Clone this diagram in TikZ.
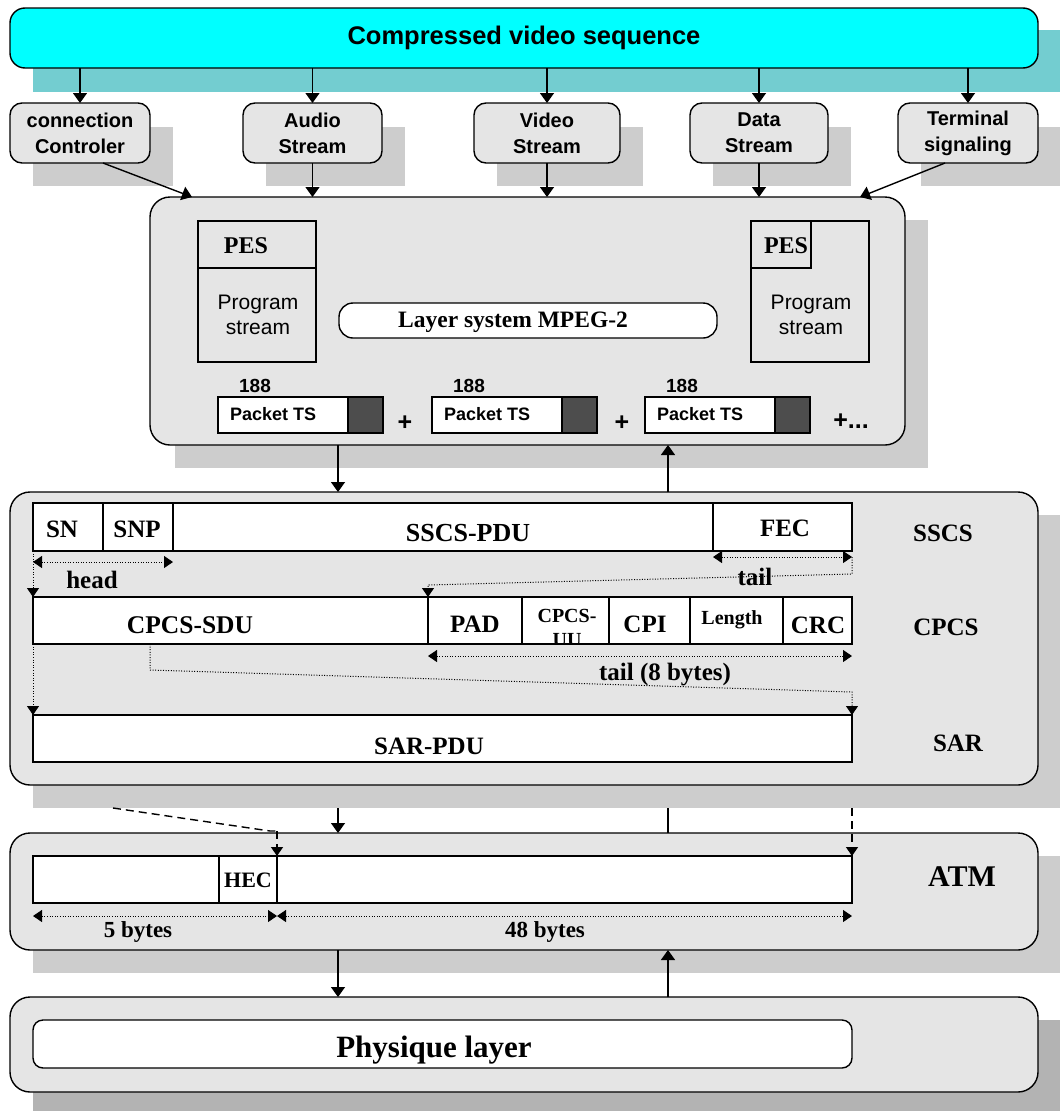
\documentclass[tikz,border=0pt]{standalone}
\usepackage{fontspec}
\setmainfont{Liberation Serif}
\setsansfont{Liberation Sans}
\usetikzlibrary{arrows.meta,calc}
\definecolor{boxfill}{HTML}{E5E5E5}
\definecolor{shad}{HTML}{CDCDCD}
\definecolor{cyanshad}{RGB}{115,205,208}
\definecolor{cyanfill}{RGB}{0,255,255}
\definecolor{darkcell}{HTML}{4D4D4D}
\definecolor{physhad}{HTML}{B3B3B3}
\begin{document}
\begin{tikzpicture}[x=1pt,y=-1pt,
  every node/.style={inner sep=0pt,outer sep=0pt},
  rbox/.style={draw,line width=1.4pt,fill=boxfill,rounded corners=#1,anchor=north west},
  cellbox/.style={draw,line width=1.4pt,fill=white,anchor=north west,minimum height=47pt},
  sb/.style={font=\sffamily\bfseries\fontsize{#1}{26}\selectfont},
  sr/.style={font=\sffamily\fontsize{#1}{25}\selectfont},
  tb/.style={font=\bfseries\fontsize{#1}{24}\selectfont},
  arr/.style={line width=1.4pt,-{Triangle[width=14pt,length=10pt]}},
  dotl/.style={line width=1pt,dash pattern=on 1pt off 1.6pt},
  dtip/.style={dotl,-{Triangle[width=12pt,length=9pt]}},
  ddtip/.style={dotl,{Triangle[width=12pt,length=9pt]}-{Triangle[width=12pt,length=9pt]}},
  dashl/.style={line width=1.4pt,dash pattern=on 8pt off 5pt}]
\useasboundingbox (0,0) rectangle (1060,1111);
\fill[white] (0,0) rectangle (1060,1111);
% ---------- shadows ----------
\fill[cyanshad] (33,30) rectangle (1060,92);
\fill[shad] (33,127) rectangle (173,186);
\fill[shad] (266,127) rectangle (405,186);
\fill[shad] (497,127) rectangle (643,186);
\fill[shad] (713,127) rectangle (851,186);
\fill[shad] (921,127) rectangle (1060,186);
\fill[shad] (175,220) rectangle (928,468);
\fill[shad] (33,515) rectangle (1060,808);
\fill[shad] (33,856) rectangle (1060,973);
\fill[physhad] (33,1020) rectangle (1060,1111);
\coordinate (aalbot) at (0,808);
\coordinate (cA) at (338,0);
\coordinate (cB) at (668,0);
\coordinate (cC) at (150,0);
\coordinate (cD) at (113,0);
% ---------- top ----------
\node[rbox=15pt,fill=cyanfill,minimum width=1028pt,minimum height=60pt,sb=25.5] (top) at (10,8) {Compressed video sequence};
\node[rbox=12pt,minimum width=140pt,minimum height=60pt,align=center,sb=20] (conn) at (10,103) {connection\\Controler};
\node[rbox=12pt,minimum width=139pt,minimum height=60pt,align=center,sb=20] (audio) at (243,103) {Audio\\Stream};
\node[rbox=12pt,minimum width=146pt,minimum height=60pt,align=center,sb=20] (video) at (474,103) {Video\\Stream};
\node[rbox=12pt,minimum width=138pt,minimum height=60pt,align=center,sb=20] (data) at (690,103) {Data\\Stream};
\node[rbox=12pt,minimum width=140pt,minimum height=60pt,align=center,sb=20] (term) at (898,103) {Terminal\\signaling};
\foreach \b in {conn,audio,video,data,term}
  \draw[arr] (top.south -| \b) -- (\b.north);
% ---------- MPEG box ----------
\node[rbox=20pt,minimum width=755pt,minimum height=248pt] (mpeg) at (150,197) {};
\draw[arr] ($(conn.south)+(23,0)$) -- ($(mpeg.north west)+(42,0)$);
\foreach \b in {audio,video,data}
  \draw[arr] (\b.south) -- (\b.south |- mpeg.north);
\draw[arr] ($(term.south)+(-23,0)$) -- ($(mpeg.north east)+(-45,0)$);
\node[draw,line width=1.4pt,fill=boxfill,anchor=north west,minimum width=118pt,minimum height=141pt] (ps1) at (198,221) {};
\node[draw,line width=1.4pt,fill=boxfill,anchor=north west,minimum width=118pt,minimum height=47pt] (pes1) at (198,221) {};
\node[tb=24] (pes1t) at (246,246) {PES};
\node[sr=21,align=center] (prog1) at (258,315) {Program\\stream};
\node[draw,line width=1.4pt,fill=boxfill,anchor=north west,minimum width=118pt,minimum height=141pt] (ps2) at (751,221) {};
\node[draw,line width=1.4pt,fill=boxfill,anchor=north west,minimum width=60pt,minimum height=47pt] (pes2) at (751,221) {};
\node[tb=24] (pes2t) at (786,246) {PES};
\node[sr=21,align=center] (prog2) at (811,315) {Program\\stream};
\node[draw,line width=1.4pt,fill=white,rounded corners=14pt,anchor=north west,minimum width=378pt,minimum height=35pt] (lay) at (339,303) {};
\node[tb=23.5] (layt) at (513,322) {Layer system MPEG-2};
\foreach \i/\x in {1/218,2/432,3/645}{
  \node[draw,line width=1.4pt,fill=white,anchor=north west,minimum width=165pt,minimum height=36pt] (pk\i) at (\x,397) {};
  \node[draw,line width=1.4pt,fill=darkcell,anchor=north east,minimum width=35pt,minimum height=36pt] (pd\i) at (pk\i.north east) {};
  \node[sb=18,anchor=west] (pt\i) at ($(pk\i.west)+(12,-1)$) {Packet TS};
  \node[sb=19] (n\i) at ($(pk\i.north west)+(37,-11)$) {188};
}
\node[sb=25] (plus1) at (405,423) {+};
\node[sb=25] (plus2) at (622,423) {+};
\node[sb=25] (plus3) at (851,421) {+...};
% ---------- AAL box ----------
\node[rbox=20pt,minimum width=1028pt,minimum height=293pt] (aal) at (10,492) {};
\draw[arr] (mpeg.south -| cA) -- (aal.north -| cA);
\draw[arr] (aal.north -| cB) -- (mpeg.south -| cB);
% SSCS row
\node[cellbox,minimum width=70pt,minimum height=48pt] (sn) at (33,503) {};
\node[cellbox,minimum width=70pt,minimum height=48pt] (snp) at (103,503) {};
\node[cellbox,minimum width=540pt,minimum height=48pt] (pdu) at (173,503) {};
\node[cellbox,minimum width=139pt,minimum height=48pt] (fec) at (713,503) {};
\node[tb=25] at (62,529) {SN};
\node[tb=25] at (137,529) {SNP};
\node[tb=26] at (468,533) {SSCS-PDU};
\node[tb=25] at (785,528) {FEC};
\node[tb=25] at (943,533) {SSCS};
% CPCS row
\node[cellbox,minimum width=395pt] (sdu) at (33,597) {};
\node[cellbox,minimum width=94pt] (pad) at (428,597) {};
\node[cellbox,minimum width=87pt] (uu) at (522,597) {};
\node[cellbox,minimum width=81pt] (cpi) at (609,597) {};
\node[cellbox,minimum width=93pt] (len) at (690,597) {};
\node[cellbox,minimum width=69pt] (crc) at (783,597) {};
\node[tb=25.5] at (190,625) {CPCS-SDU};
\node[tb=25] at (475,624) {PAD};
\begin{scope}
  \clip (uu.south west) rectangle (uu.north east);
  \node[tb=20,align=center] at (567,628) {CPCS-\\UU};
\end{scope}
\node[tb=25] at (645,624) {CPI};
\node[tb=20] at (732,620) {Length};
\node[tb=25] at (818,625) {CRC};
\node[tb=25] at (946,627) {CPCS};
% SAR row
\node[cellbox,minimum width=819pt] (sar) at (33,715) {};
\node[tb=25] at (429,746) {SAR-PDU};
\node[tb=25] at (958,743) {SAR};
% dotted annotations
\draw[ddtip] ($(sn.south west)+(0,11)$) -- ($(snp.south east)+(0,11)$);
\node[tb=25] at (92,580) {head};
\draw[dtip] (sn.south west) -- (sdu.north west);
\draw[ddtip] ($(fec.south west)+(0,6)$) -- ($(fec.south east)+(0,6)$);
\draw[dtip] ($(fec.south east)+(0,6)$) -- ++(0,17) -- ($(pad.north west)+(0,-12)$) -- (pad.north west);
\node[tb=25] at (755,577) {tail};
\draw[ddtip] ($(pad.south west)+(0,12)$) -- ($(crc.south east)+(0,12)$);
\draw[dtip] (sdu.south -| cC) -- ++(0,26) -- ($(sar.north east)+(0,-23)$) -- (sar.north east);
\node[tb=25] at (665,675) {tail (8 bytes)};
\draw[dtip] (sdu.south west) -- (sar.north west);
% ---------- ATM box ----------
\node[rbox=20pt,minimum width=1028pt,minimum height=117pt] (atm) at (10,833) {};
\node[cellbox,minimum width=186pt] (a1) at (33,856) {};
\node[cellbox,minimum width=58pt] (hec) at (219,856) {};
\node[cellbox,minimum width=575pt] (a3) at (277,856) {};
\node[tb=22] at (248,880) {HEC};
\node[tb=30] at (962,877) {ATM};
\draw[arr] (aalbot -| cA) -- (atm.north -| cA);
\draw[line width=1.4pt] (aalbot -| cB) -- (atm.north -| cB);
\draw[dashl] (aalbot -| cD) -- ($(hec.north east)+(-7,-25)$) -- ($(hec.north east)+(0,-25)$);
\draw[dashl,-{Triangle[width=12pt,length=9pt]}] ($(hec.north east)+(0,-25)$) -- (hec.north east);
\draw[dashl,-{Triangle[width=12pt,length=9pt]}] (aalbot -| a3.east) -- (a3.north east);
\draw[ddtip] ($(a1.south west)+(0,13)$) -- ($(hec.south east)+(0,13)$);
\draw[ddtip] ($(a3.south west)+(0,13)$) -- ($(a3.south east)+(0,13)$);
\node[tb=23] at (138,932) {5 bytes};
\node[tb=23] at (545,932) {48 bytes};
% ---------- Physique ----------
\node[rbox=20pt,minimum width=1028pt,minimum height=95pt] (phy) at (10,997) {};
\draw[arr] (atm.south -| cA) -- (phy.north -| cA);
\draw[arr] (phy.north -| cB) -- (atm.south -| cB);
\node[draw,line width=1.4pt,fill=white,rounded corners=10pt,anchor=north west,minimum width=819pt,minimum height=48pt] (phyin) at (33,1020) {};
\node[tb=31] at (434,1050) {Physique layer};
\end{tikzpicture}
\end{document}
